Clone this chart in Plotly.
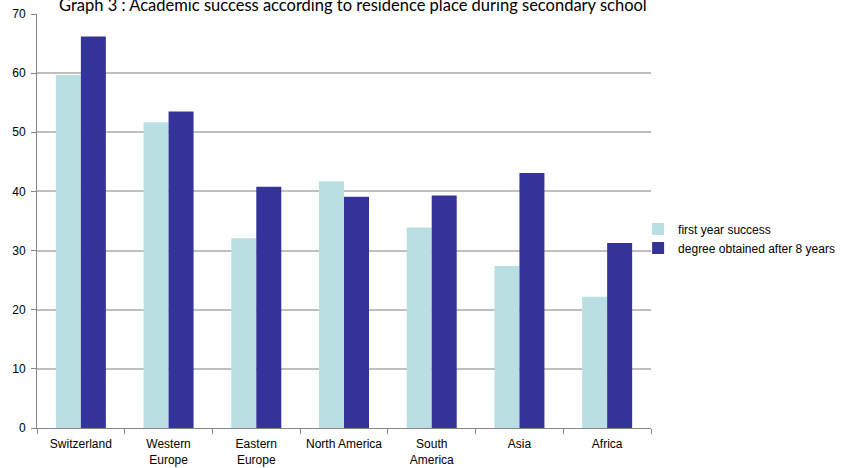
import plotly.graph_objects as go

categories = ["Switzerland", "Western<br>Europe", "Eastern<br>Europe", "North America",
              "South<br>America", "Asia", "Africa"]
first_year = [59.7, 51.7, 32.1, 41.7, 33.9, 27.4, 22.2]
degree_8y = [66.2, 53.5, 40.8, 39.1, 39.3, 43.1, 31.3]
series_names = ["first year success", "degree obtained after 8 years"]
title_text = "Graph 3 : Academic success according to residence place during secondary school"

fig = go.Figure()
fig.add_trace(go.Bar(x=categories, y=first_year, name=series_names[0],
                     marker=dict(color="#B9DFE3", line=dict(width=0))))
fig.add_trace(go.Bar(x=categories, y=degree_8y, name=series_names[1],
                     marker=dict(color="#333399", line=dict(width=0))))

fig.update_layout(
    width=853, height=468,
    margin=dict(l=37, r=202, t=14, b=40, autoexpand=False),
    paper_bgcolor="white", plot_bgcolor="white",
    barmode="group", bargap=0.43, bargroupgap=0,
    font=dict(family="Liberation Sans, Arial", size=12, color="#000000"),
    legend=dict(x=0.979, y=0.458, xanchor="left", yanchor="middle",
                font=dict(size=12, family="Liberation Sans, Arial"),
                itemwidth=30, bgcolor="rgba(0,0,0,0)"),
    showlegend=True,
)
fig.add_annotation(text=title_text, xref="paper", yref="paper", x=0.515, y=1.0,
                   xanchor="center", yanchor="bottom", yshift=-3, showarrow=False,
                   font=dict(family="Lato", size=16.5, color="#000000"))
fig.update_xaxes(showline=True, linecolor="#868686", linewidth=1,
                 ticks="outside", tickson="boundaries", ticklen=5, tickcolor="#868686",
                 tickfont=dict(size=12), tickangle=0, automargin=False, showgrid=False,
                 ticklabelstandoff=5)
fig.update_yaxes(range=[0, 70], dtick=10, showline=True, linecolor="#868686", linewidth=1,
                 ticks="outside", ticklen=5, tickcolor="#868686",
                 showgrid=True, gridcolor="#BFBFBF", gridwidth=1.5, automargin=False,
                 zeroline=False, tickfont=dict(size=12), ticklabelstandoff=3)

fig.write_html("out.html", config={"displayModeBar": False},
               post_script="document.body.style.margin='0';")
